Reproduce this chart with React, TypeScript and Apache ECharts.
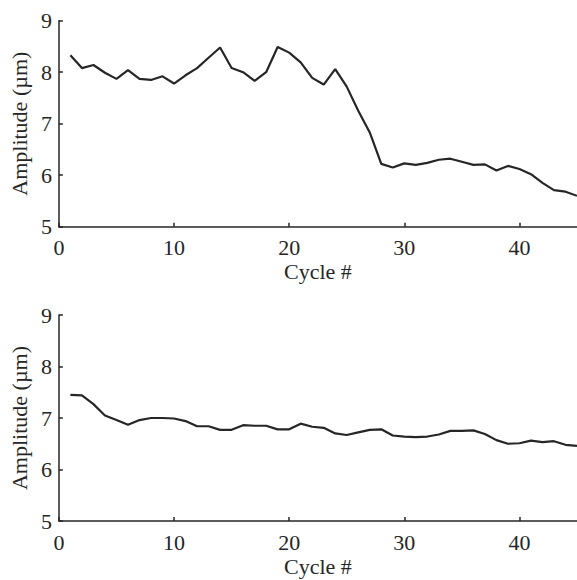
import React, { useEffect, useRef } from "react";
import * as echarts from "echarts";

const cycles = [
  1, 2, 3, 4, 5, 6, 7, 8, 9, 10, 11, 12, 13, 14, 15, 16, 17, 18, 19, 20, 21, 22, 23,
  24, 25, 26, 27, 28, 29, 30, 31, 32, 33, 34, 35, 36, 37, 38, 39, 40, 41, 42, 43, 44, 45,
];

const amplitudeTop = [
  8.33, 8.08, 8.14, 7.99, 7.87, 8.04, 7.87, 7.85, 7.92, 7.78, 7.94, 8.08, 8.28, 8.48,
  8.08, 8.0, 7.83, 8.0, 8.49, 8.38, 8.19, 7.89, 7.76, 8.06, 7.72, 7.25, 6.83, 6.22,
  6.15, 6.23, 6.2, 6.24, 6.3, 6.32, 6.26, 6.2, 6.21, 6.09, 6.18, 6.12, 6.02, 5.85,
  5.71, 5.68, 5.6,
];

const amplitudeBottom = [
  7.45, 7.44, 7.27, 7.05, 6.96, 6.87, 6.96, 7.0, 7.0, 6.99, 6.94, 6.84, 6.84, 6.77,
  6.77, 6.86, 6.85, 6.85, 6.78, 6.78, 6.89, 6.83, 6.81, 6.7, 6.67, 6.72, 6.77, 6.78,
  6.66, 6.64, 6.63, 6.64, 6.68, 6.75, 6.75, 6.76, 6.69, 6.57, 6.5, 6.51, 6.56, 6.53,
  6.55, 6.48, 6.46,
];

const yTicks = [5, 6, 7, 8, 9];
const xTicks = [0, 10, 20, 30, 40];
const xName = "Cycle #";
const yName = "Amplitude (µm)";

const INK = "#262626";
const FONT = "Liberation Serif";

export default function App() {
  const ref = useRef<HTMLDivElement>(null);

  useEffect(() => {
    if (!ref.current) return;
    const chart = echarts.init(ref.current, undefined, { renderer: "svg" });

    const grids = [
      { left: 57.3, top: 20.7, width: 522, height: 206 },
      { left: 57.3, top: 315, width: 522, height: 206 },
    ];

    const makeX = (gi: number) => ({
      type: "value",
      gridIndex: gi,
      min: 0,
      max: 45,
      interval: 10,
      name: xName,
      nameLocation: "middle",
      nameGap: 34,
      nameTextStyle: { color: INK, fontFamily: FONT, fontSize: 22 },
      axisLine: { show: true, lineStyle: { color: INK, width: 1.5 } },
      axisTick: { show: true, inside: true, length: 4, lineStyle: { color: INK, width: 1.5 } },
      axisLabel: {
        color: INK,
        fontFamily: FONT,
        fontSize: 22,
        margin: 10,
        showMaxLabel: false,
        formatter: (v: number) => (xTicks.includes(v) ? String(v) : ""),
      },
      splitLine: { show: false },
    });

    const makeY = (gi: number) => ({
      type: "value",
      gridIndex: gi,
      min: yTicks[0],
      max: yTicks[yTicks.length - 1],
      interval: 1,
      name: yName,
      nameLocation: "middle",
      nameGap: 27,
      nameTextStyle: { color: INK, fontFamily: FONT, fontSize: 22 },
      axisLine: { show: true, lineStyle: { color: INK, width: 1.5 } },
      axisTick: { show: true, inside: true, length: 4, lineStyle: { color: INK, width: 1.5 } },
      axisLabel: { color: INK, fontFamily: FONT, fontSize: 22, margin: 7 },
      splitLine: { show: false },
    });

    chart.setOption({
      animation: false,
      backgroundColor: "#ffffff",
      textStyle: { fontFamily: FONT },
      grid: grids,
      xAxis: [makeX(0), makeX(1)],
      yAxis: [makeY(0), makeY(1)],
      series: [
        {
          type: "line",
          xAxisIndex: 0,
          yAxisIndex: 0,
          data: cycles.map((c, i) => [c, amplitudeTop[i]]),
          showSymbol: false,
          lineStyle: { color: INK, width: 2.2 },
          itemStyle: { color: INK },
        },
        {
          type: "line",
          xAxisIndex: 1,
          yAxisIndex: 1,
          data: cycles.map((c, i) => [c, amplitudeBottom[i]]),
          showSymbol: false,
          lineStyle: { color: INK, width: 2.2 },
          itemStyle: { color: INK },
        },
      ],
    });

    return () => chart.dispose();
  }, []);

  return (
    <div
      ref={ref}
      style={{ position: "absolute", left: 0, top: 0, width: 577, height: 580, background: "#fff" }}
    />
  );
}
